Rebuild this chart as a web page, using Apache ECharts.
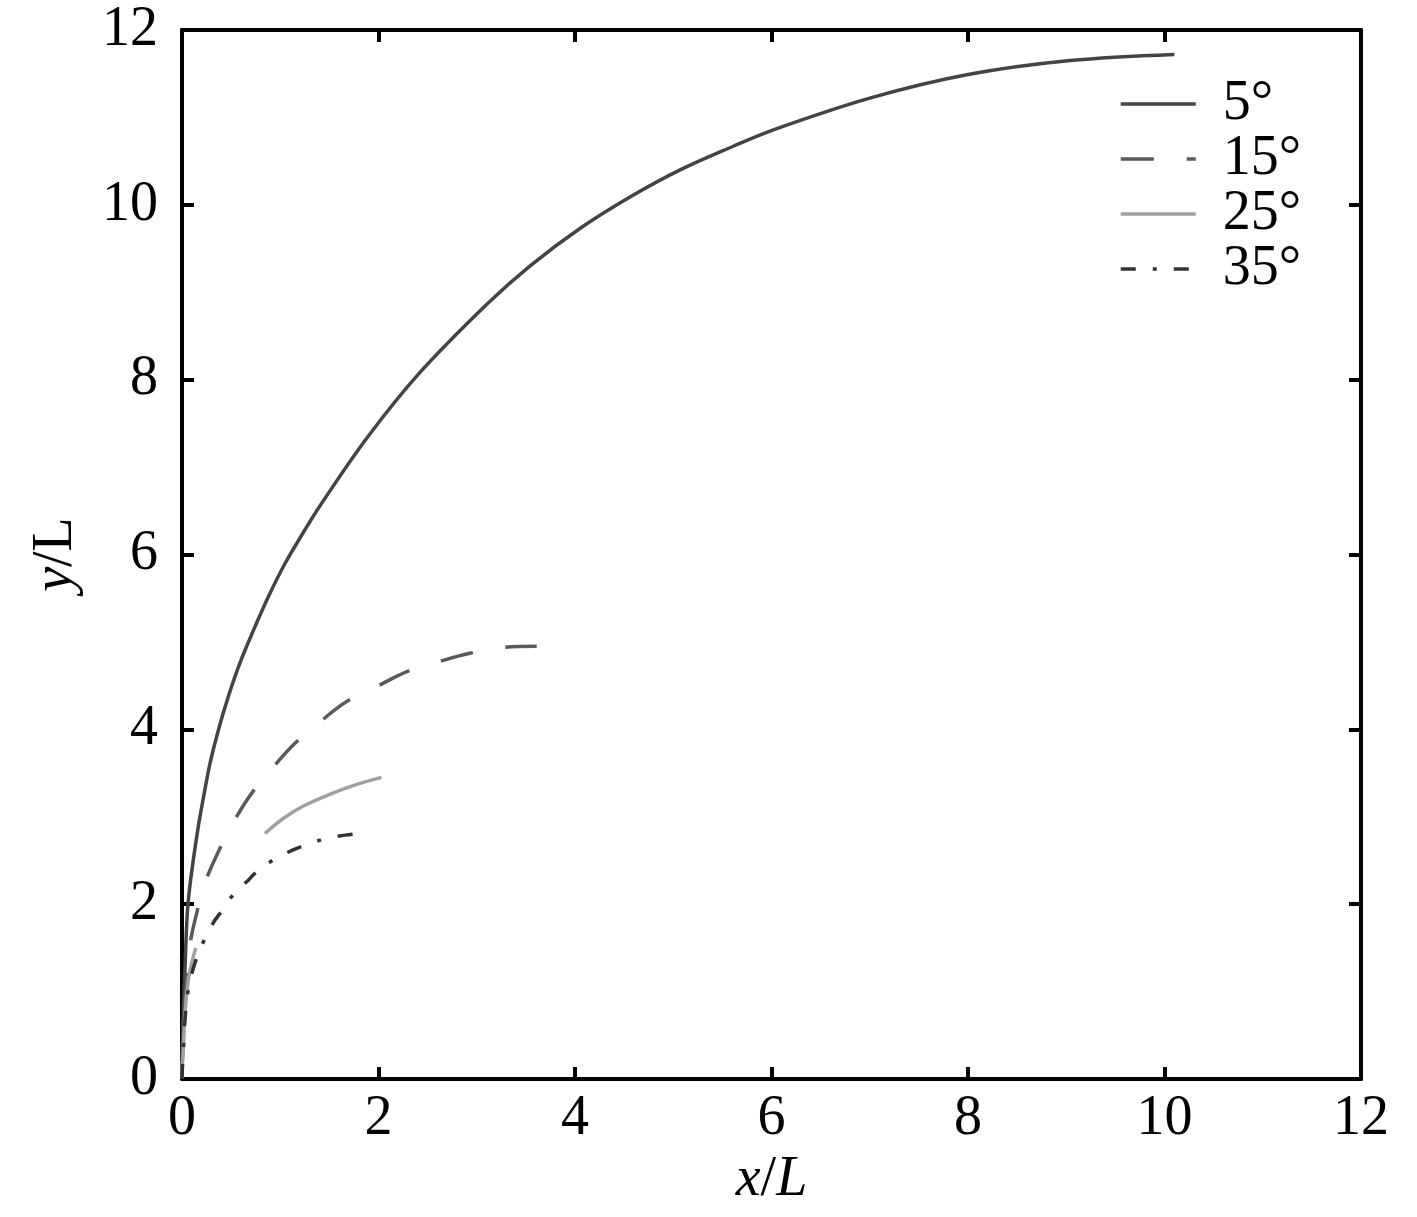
<!DOCTYPE html>
<html><head><meta charset="utf-8">
<script src="https://cdn.jsdelivr.net/npm/echarts@6/dist/echarts.min.js"></script>
<style>html,body{margin:0;padding:0;background:#fff}#c{width:1417px;height:1217px}</style>
</head><body><div id="c"></div>
<script>
// Series names (legend)
const seriesNames = ['5°', '15°', '25°', '35°'];

// 5°
const x5 = [0, 0.005, 0.015, 0.03, 0.054, 0.088, 0.166, 0.22, 0.285, 0.37, 0.47, 0.59, 0.73, 0.88, 1.05, 1.25, 1.40, 1.88, 2.42, 3.10, 3.54, 4.05, 4.56, 5.07, 5.61, 6.0, 7.0, 8.0, 9.04, 10.1];
const y5 = [0, 0.35, 0.8, 1.25, 1.9, 2.28, 2.89, 3.23, 3.61, 3.99, 4.37, 4.76, 5.14, 5.52, 5.90, 6.28, 6.55, 7.33, 8.08, 8.86, 9.30, 9.73, 10.09, 10.40, 10.67, 10.85, 11.22, 11.49, 11.65, 11.72];

// 15°
const x15 = [0, 0.005, 0.02, 0.045, 0.08, 0.15, 0.24, 0.37, 0.53, 0.71, 0.93, 1.15, 1.42, 1.68, 2.0, 2.29, 2.63, 2.93, 3.29, 3.61];
const y15 = [0, 0.3, 0.7, 1.1, 1.53, 1.90, 2.26, 2.60, 2.95, 3.27, 3.57, 3.84, 4.10, 4.32, 4.50, 4.66, 4.78, 4.87, 4.94, 4.95];

// 25° (null marks the break in the drawn curve)
const x25 = [0, 0.003, 0.012, 0.03, 0.064, 0.1, 0.14, null, 0.845, 1.03, 1.23, 1.51, 1.78, 2.03];
const y25 = [0, 0.15, 0.3, 0.75, 1.13, 1.33, 1.50, null, 2.81, 2.98, 3.12, 3.26, 3.37, 3.45];

// 35°
const x35 = [0, 0.005, 0.015, 0.03, 0.064, 0.13, 0.234, 0.32, 0.39, 0.53, 0.68, 0.74, 0.95, 1.13, 1.27, 1.46, 1.66, 1.81];
const y35 = [0, 0.15, 0.35, 0.67, 1.02, 1.32, 1.61, 1.79, 1.90, 2.12, 2.28, 2.35, 2.52, 2.62, 2.68, 2.75, 2.79, 2.81];

// Axis ticks
const axisMin = 0, axisMax = 12, axisStep = 2;

const pairs = (xs, ys) => xs.map((x, i) => (x == null ? ['-', '-'] : [x, ys[i]]));

const FONT = 'Liberation Serif';
const FS = 56;
const LW = 3.5;

const axisBase = {
  type: 'value', min: axisMin, max: axisMax, interval: axisStep,
  axisLine: { show: true, onZero: false, lineStyle: { color: '#000', width: 4 } },
  axisTick: { show: true, inside: true, length: 12, lineStyle: { color: '#000', width: 4 } },
  splitLine: { show: false }
};

const lineSeries = (name, xs, ys, color, type, dashOffset) => ({
  name, type: 'line', data: pairs(xs, ys), showSymbol: false, symbol: 'none',
  connectNulls: false, smooth: 0.35,
  lineStyle: { color, width: LW, type, dashOffset: dashOffset || 0 }, itemStyle: { color }
});

const chart = echarts.init(document.getElementById('c'), null, { renderer: 'canvas' });
chart.setOption({
  animation: false,
  backgroundColor: '#fff',
  grid: { left: 182, top: 30, right: 56, bottom: 138, containLabel: false },
  legend: {
    orient: 'vertical', left: 1114, top: 71,
    itemWidth: 75, itemHeight: 20, itemGap: -1,
    data: seriesNames,
    itemStyle: { opacity: 0 },
    lineStyle: { width: LW, dashOffset: 0 },
    textStyle: { fontFamily: FONT, fontSize: FS, color: '#000', padding: [0, 0, 0, 22] }
  },
  xAxis: [
    Object.assign({}, axisBase, {
      position: 'bottom',
      axisLabel: { fontFamily: FONT, fontSize: FS, color: '#000', margin: 12 },
      name: '{i|x}{n|/}{i|L}', nameLocation: 'middle', nameGap: 72,
      nameTextStyle: { fontFamily: FONT, fontSize: FS, color: '#000',
        rich: { i: { fontFamily: FONT, fontSize: FS, fontStyle: 'italic', color: '#000' },
                n: { fontFamily: FONT, fontSize: FS, color: '#000' } } }
    }),
    Object.assign({}, axisBase, { position: 'top', axisLabel: { show: false } })
  ],
  yAxis: [
    Object.assign({}, axisBase, {
      position: 'left',
      axisLabel: { fontFamily: FONT, fontSize: FS, color: '#000', margin: 24 },
      name: '{i|y}{n|/L}', nameLocation: 'middle', nameGap: 98,
      nameTextStyle: { fontFamily: FONT, fontSize: FS, color: '#000',
        rich: { i: { fontFamily: FONT, fontSize: FS, fontStyle: 'italic', color: '#000' },
                n: { fontFamily: FONT, fontSize: FS, color: '#000' } } }
    }),
    Object.assign({}, axisBase, { position: 'right', axisLabel: { show: false } })
  ],
  series: [
    lineSeries(seriesNames[0], x5, y5, '#444444', 'solid'),
    lineSeries(seriesNames[1], x15, y15, '#5a5a5a', [33, 33], 59),
    lineSeries(seriesNames[2], x25, y25, '#a0a0a0', 'solid'),
    lineSeries(seriesNames[3], x35, y35, '#333333', [15, 17, 4, 17])
  ]
});
</script>
</body></html>
